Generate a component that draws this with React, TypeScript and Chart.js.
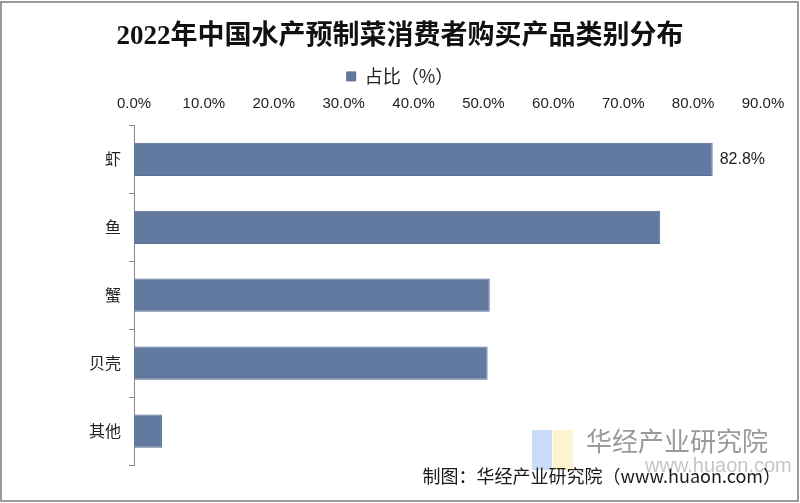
import React, { useEffect, useRef } from "react";
import { Chart, registerables } from "chart.js";

Chart.register(...registerables);

const titleText = "2022年中国水产预制菜消费者购买产品类别分布";
const seriesName = "占比（%）";
const categories = ["虾", "鱼", "蟹", "贝壳", "其他"];
const values = [82.8, 75.3, 50.9, 50.6, 4.0];
const labeledIndexes = [0];
const footerText = "制图：华经产业研究院（www.huaon.com）";
const watermarkName = "华经产业研究院";
const watermarkUrl = "www.huaon.com";

const BAR_COLOR = "#6279a0";
const SANS = "'Liberation Sans', 'Noto Sans CJK SC', sans-serif";

const decorPlugin = {
  id: "decor",
  beforeDraw(chart: any) {
    const { ctx, width, height } = chart;
    ctx.save();
    ctx.fillStyle = "#ffffff";
    ctx.fillRect(0, 0, width, height);
    ctx.restore();
  },
  afterDraw(chart: any) {
    const { ctx, width, height } = chart;
    ctx.save();
    // watermark
    ctx.globalAlpha = 0.55;
    ctx.fillStyle = "#9cc3ee";
    ctx.fillRect(532, 430, 20, 40);
    ctx.fillStyle = "#fbe9a6";
    ctx.fillRect(553, 430, 20, 40);
    ctx.globalAlpha = 1;
    ctx.fillStyle = "rgba(120,120,120,0.75)";
    ctx.font = `26px 'Noto Sans CJK SC', sans-serif`;
    ctx.textBaseline = "middle";
    ctx.textAlign = "left";
    ctx.fillText(watermarkName, 586, 441);
    ctx.fillStyle = "rgba(150,150,150,0.55)";
    ctx.font = `20px ${SANS}`;
    ctx.fillText(watermarkUrl, 645, 466);
    // footer
    ctx.fillStyle = "#1a1a1a";
    ctx.font = `18px 'Noto Sans CJK SC', sans-serif`;
    ctx.textAlign = "right";
    ctx.fillText(footerText, 781, 476);
    // data labels
    const meta = chart.getDatasetMeta(0);
    ctx.font = `16px ${SANS}`;
    ctx.fillStyle = "#222";
    ctx.textAlign = "left";
    labeledIndexes.forEach((i) => {
      const bar = meta.data[i];
      if (!bar) return;
      ctx.fillText(values[i].toFixed(1) + "%", bar.x + 7, bar.y);
    });
    // frame
    ctx.strokeStyle = "#9a9a9a";
    ctx.lineWidth = 2;
    ctx.strokeRect(1, 2, width - 3, height - 4);
    ctx.restore();
  },
};

export default function App() {
  const ref = useRef<HTMLCanvasElement>(null);
  useEffect(() => {
    if (!ref.current) return;
    const chart = new Chart(ref.current, {
      type: "bar",
      data: {
        labels: categories,
        datasets: [
          {
            label: seriesName,
            data: values,
            backgroundColor: BAR_COLOR,
            borderColor: "#5a6f95",
            borderWidth: 1,
            categoryPercentage: 1,
            barPercentage: 0.49,
          },
        ],
      },
      options: {
        indexAxis: "y",
        responsive: false,
        animation: false,
        layout: { padding: { left: 0, right: 0, top: 0, bottom: 38 } },
        plugins: {
          title: {
            display: true,
            text: titleText,
            color: "#111",
            font: { family: "'Liberation Serif', 'Noto Sans CJK SC', serif", size: 27, weight: "bold" },
            padding: { top: 21, bottom: 3 },
          },
          legend: {
            display: true,
            labels: {
              boxWidth: 9,
              boxHeight: 9,
              color: "#222",
              font: { family: "'Noto Sans CJK SC', sans-serif", size: 18 },
              padding: 11,
            },
          },
          tooltip: { enabled: false },
        },
        scales: {
          x: {
            position: "top",
            min: 0,
            max: 90,
            grid: { display: false },
            border: { display: false },
            ticks: {
              stepSize: 10,
              color: "#222",
              font: { family: SANS, size: 15 },
              padding: 5,
              callback: (v: any) => Number(v).toFixed(1) + "%",
            },
            afterFit: (s: any) => {
              s.height = 30;
              s.paddingRight = 37;
            },
          },
          y: {
            grid: { display: true, drawOnChartArea: false, drawTicks: true, tickLength: 5, color: "#888", offset: true },
            border: { display: true, color: "#888", width: 1 },
            ticks: {
              color: "#222",
              font: { family: "'Noto Sans CJK SC', sans-serif", size: 16 },
              padding: 8,
            },
            afterFit: (s: any) => {
              s.width = 134;
            },
          },
        },
      },
      plugins: [decorPlugin],
    });
    return () => chart.destroy();
  }, []);
  return (
    <div style={{ position: "absolute", left: 0, top: 0, width: 800, height: 503 }}>
      <canvas ref={ref} width={800} height={503} style={{ display: "block" }} />
    </div>
  );
}
